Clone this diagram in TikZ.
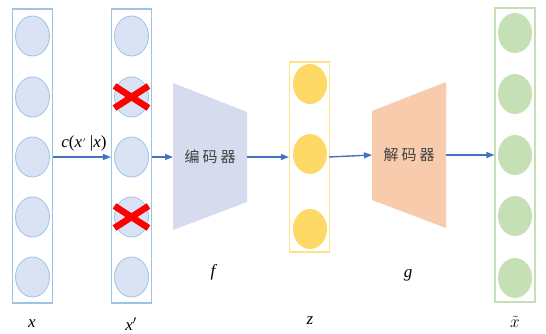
\documentclass[tikz,border=0pt]{standalone}
\usepackage{fontspec}
\setmainfont{Liberation Serif}
\newfontfamily\cjk{Noto Sans CJK SC}
\usetikzlibrary{arrows.meta,shapes.geometric}
\definecolor{bluebd}{HTML}{9DC3E6}
\definecolor{bluefill}{HTML}{DAE3F3}
\definecolor{encfill}{HTML}{D6DCEE}
\definecolor{yelbd}{HTML}{FFE38A}
\definecolor{yelfill}{HTML}{FFD966}
\definecolor{decfill}{HTML}{F8CBAD}
\definecolor{grnbd}{HTML}{C5E0B4}
\definecolor{grnfill}{HTML}{C5E0B4}
\definecolor{arrowc}{HTML}{4472C4}
\definecolor{txtc}{HTML}{404040}
\tikzset{
  colbox/.style={draw=#1, line width=1.2pt, minimum width=40pt, inner sep=0pt},
  neuron/.style={ellipse, minimum width=34pt, minimum height=40pt, inner sep=0pt},
  bneuron/.style={neuron, draw=bluebd, fill=bluefill, line width=0.8pt},
  yneuron/.style={neuron, fill=yelfill},
  gneuron/.style={neuron, fill=grnfill},
  flow/.style={draw=arrowc, line width=1.4pt, -{Triangle[length=8pt,width=6pt]}},
  lbl/.style={font=\fontsize{17}{19}\selectfont\itshape, inner sep=0pt},
  cn/.style={font=\cjk\fontsize{15}{17}\selectfont, text=txtc, inner sep=0pt},
  cross/.style={draw=red, line width=6.5pt}
}
\begin{document}
\begin{tikzpicture}[x=1pt,y=-1pt]
\useasboundingbox (0,0) rectangle (546,334);
% columns
\node[colbox=bluebd, minimum height=294pt] (cx) at (32.5,156) {};
\node[colbox=bluebd, minimum height=294pt] (cxp) at (131.5,156) {};
\node[colbox=yelbd, minimum height=190pt] (cz) at (309.5,157) {};
\node[colbox=grnbd, minimum height=294pt] (cy) at (515,155) {};
% neurons
\foreach \i/\y in {1/36,2/97,3/157,4/217,5/277}{
  \node[bneuron] (x\i) at (32.5,\y) {};
  \node[bneuron] (xp\i) at (131.5,\y) {};
}
\foreach \i/\y in {1/33,2/94,3/155,4/216,5/278}{
  \node[gneuron] (y\i) at (515,\y) {};
}
\foreach \i/\y in {1/84,2/154,3/229}{
  \node[yneuron] (z\i) at (310,\y) {};
}
% crosses
\foreach \n in {xp2,xp4}{
  \draw[cross] ([shift={(-17,-11)}]\n.center) -- ([shift={(17,11)}]\n.center);
  \draw[cross] ([shift={(-17,11)}]\n.center) -- ([shift={(17,-11)}]\n.center);
}
% encoder / decoder
\fill[encfill] (173,83) -- (247,112) -- (247,202) -- (173,230) -- cycle;
\fill[decfill] (372,111) -- (446,82) -- (446,228) -- (372,200) -- cycle;
\node[cn] (enc) at (210,157) {编\hspace{3pt}码\hspace{3pt}器};
\node[cn] (dec) at (409,155) {解\hspace{3pt}码\hspace{3pt}器};
\coordinate (encw) at (173,157);
\coordinate (ence) at (247,157);
\coordinate (decw) at (372,155);
\coordinate (dece) at (446,155);
\coordinate (zout) at (329,157);
% arrows
\draw[flow] (cx.east |- x3) -- (cxp.west |- xp3);
\draw[flow] (cxp.east |- xp3) -- (encw);
\draw[flow] (ence) -- (cz.west);
\draw[flow] (zout) -- (decw);
\draw[flow] (dece) -- (cy.west);
% labels
\node[lbl, font=\fontsize{17}{19}\selectfont] (clbl) at (84,143) {\textit{c}(\textit{x}\hspace{1pt}\raisebox{0.15ex}{\fontsize{10}{10}\selectfont$'$}\hspace{4pt}|\textit{x})};
\node[lbl] (lx) at (32,324) {x};
\node[lbl] (lxp) at (131,324) {x$'$};
\node[lbl] (lf) at (213,272) {f};
\node[lbl] (lz) at (310,321) {z};
\node[lbl] (lg) at (408,275) {g};
\node[lbl] (ly) at (515,322) {$\tilde{x}$};
\end{tikzpicture}
\end{document}
